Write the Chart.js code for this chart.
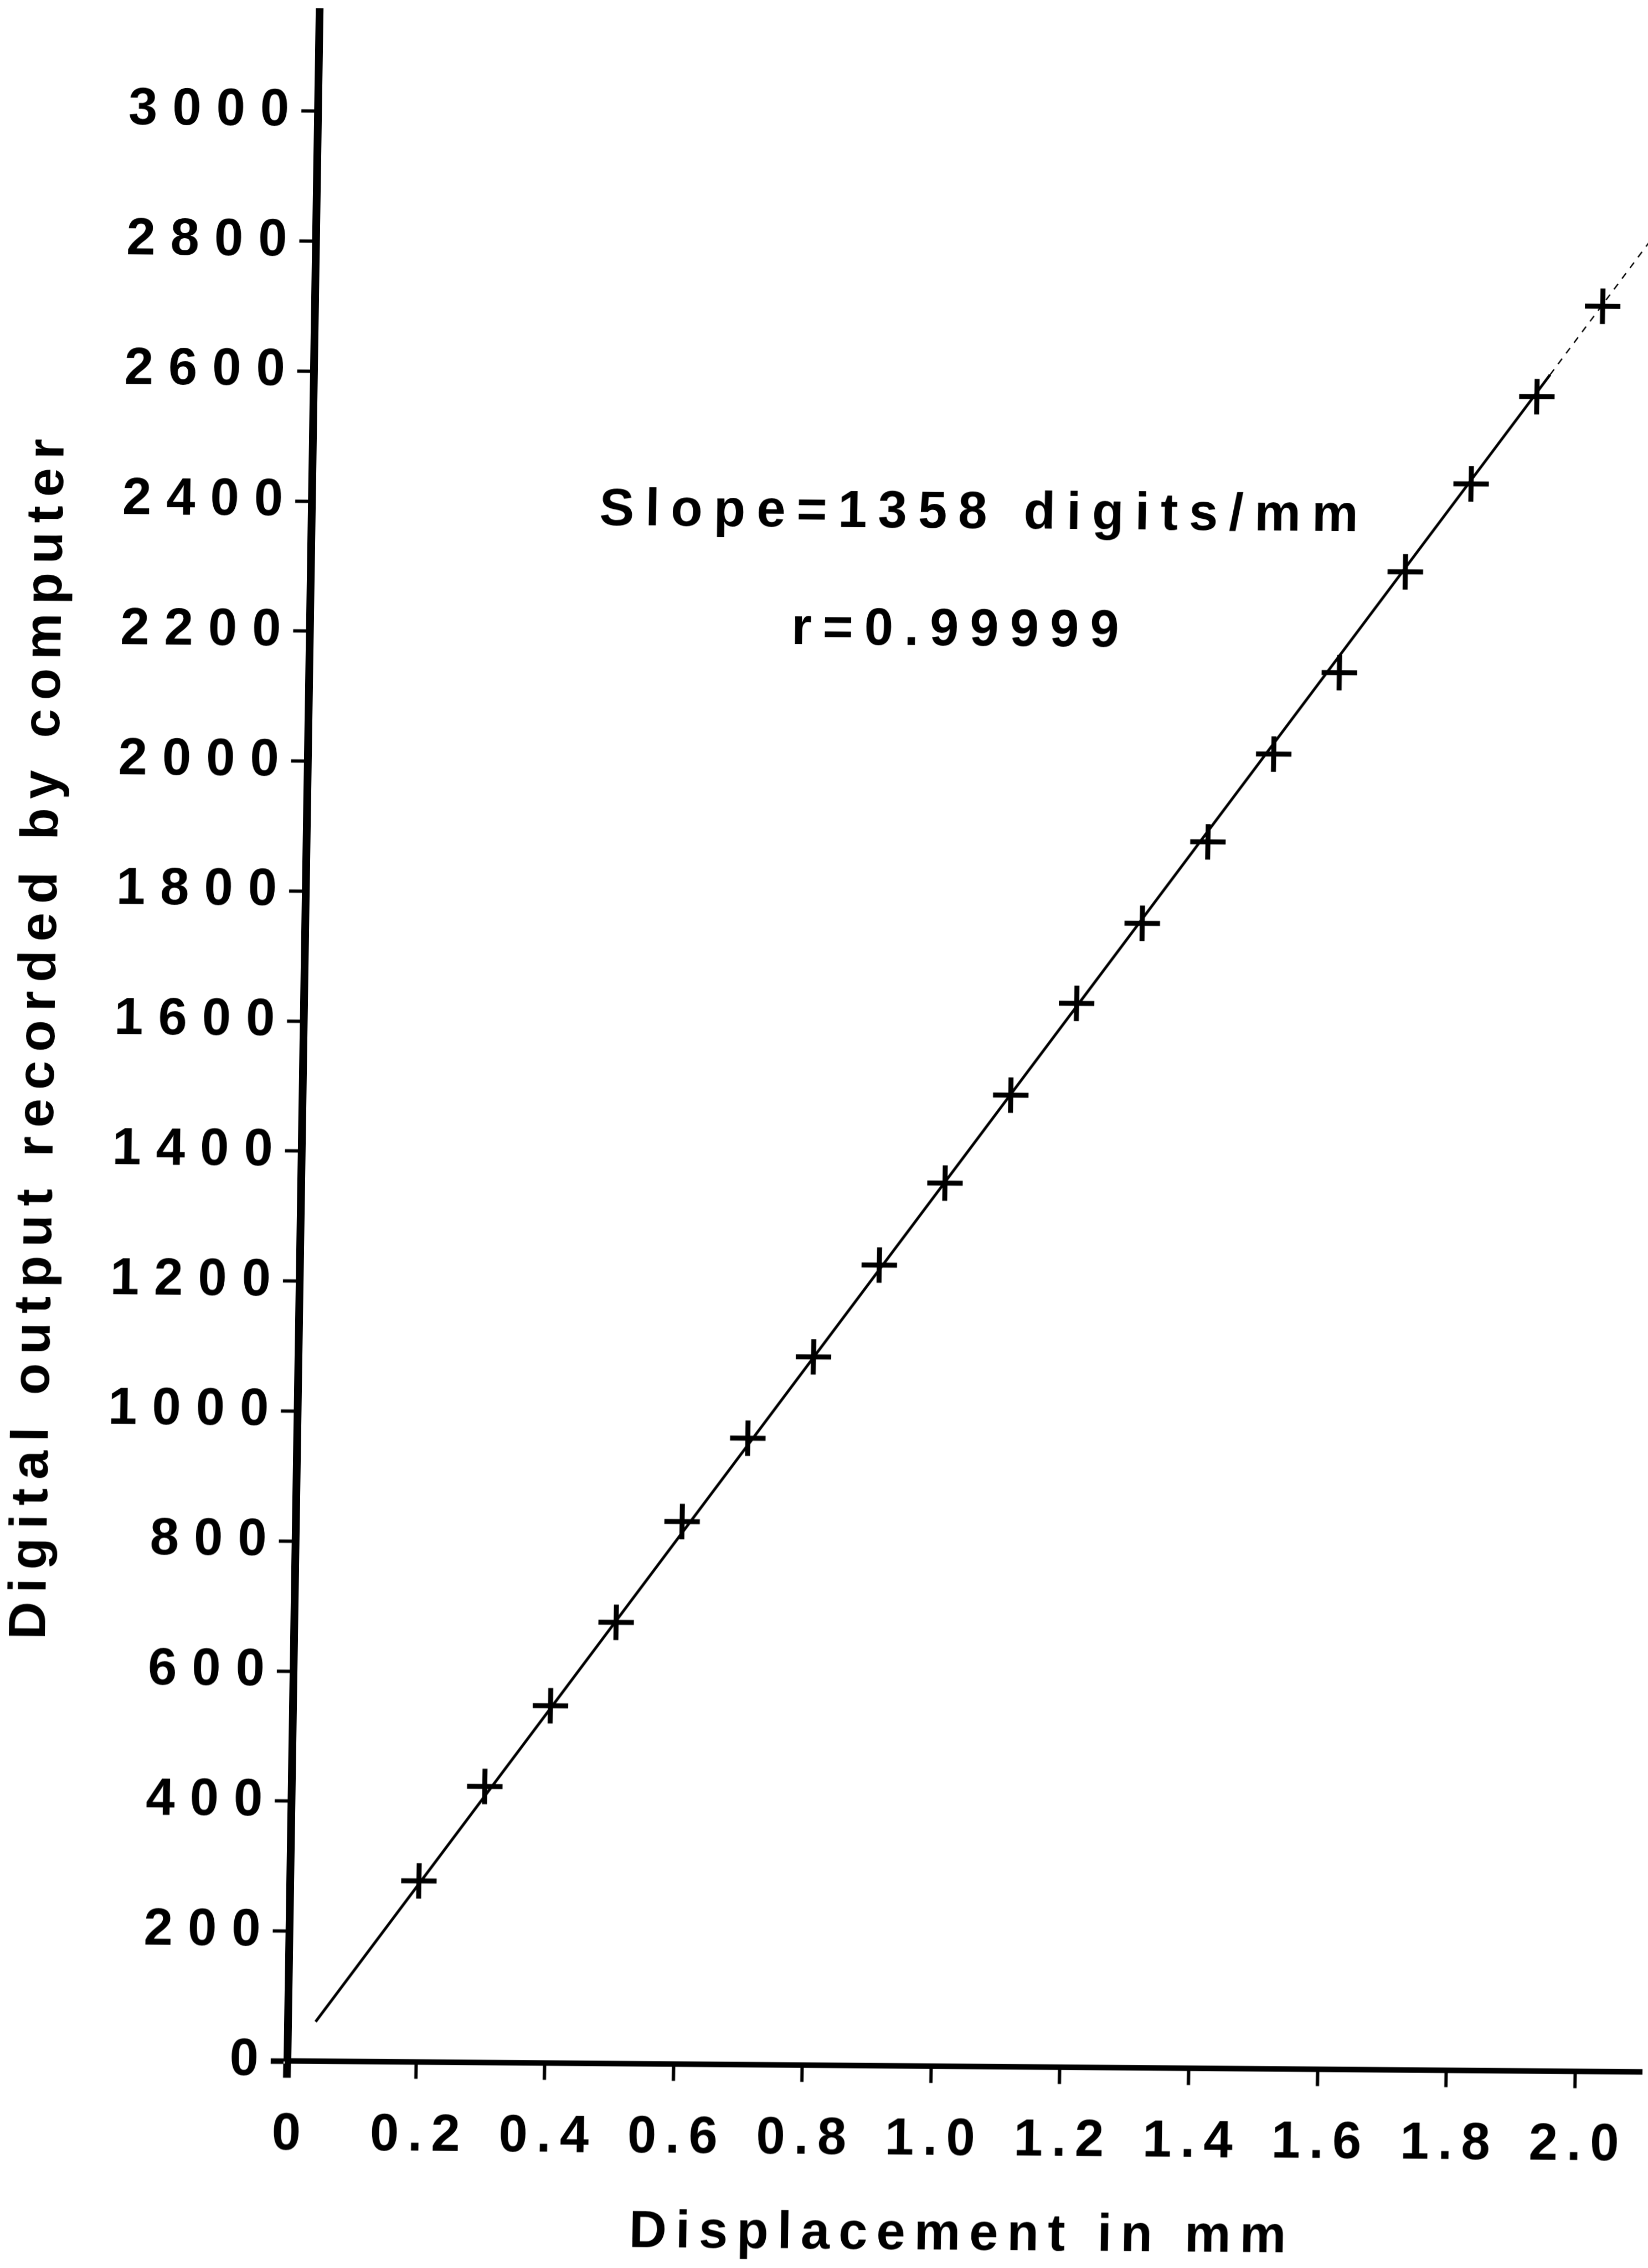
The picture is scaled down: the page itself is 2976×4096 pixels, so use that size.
<!DOCTYPE html>
<html>
<head>
<meta charset="utf-8">
<title>Digital output vs displacement</title>
<script src="https://cdn.jsdelivr.net/npm/chart.js@4/dist/chart.umd.min.js"></script>
<style>
  html, body { margin: 0; padding: 0; background: #fff; overflow: hidden; }
  #chart {
    display: block;
    /* the scanned original is slightly skewed, origin = axes corner */
    transform-origin: 518.8px 3722.4px;
    transform: matrix(1, 0.0081, -0.0157, 1, 0, 0);
  }
</style>
</head>
<body>
<canvas id="chart" width="2976" height="4096"></canvas>
<script>
// measured points (displacement in mm, digital output)
const displacement = [0.2, 0.3, 0.4, 0.5, 0.6, 0.7, 0.8, 0.9, 1.0, 1.1, 1.2, 1.3, 1.4, 1.5, 1.6, 1.7, 1.8, 1.9, 2.0];
const digitalOutput = [279, 425, 550, 679, 835, 964, 1090, 1232, 1359, 1495, 1637, 1761, 1887, 2023, 2149, 2305, 2441, 2576, 2716];

// regression line as drawn (solid, then a faint dashed end)
const fitX = [0.043, 1.92, 2.07];
const fitY = [61, 2610, 2814];

const xTickValues = [0, 0.2, 0.4, 0.6, 0.8, 1.0, 1.2, 1.4, 1.6, 1.8, 2.0];
const xTickLabels = ['0', '0.2', '0.4', '0.6', '0.8', '1.0', '1.2', '1.4', '1.6', '1.8', '2.0'];
const yTickValues = [0, 200, 400, 600, 800, 1000, 1200, 1400, 1600, 1800, 2000, 2200, 2400, 2600, 2800, 3000];
const yTickLabels = ['0', '200', '400', '600', '800', '1000', '1200', '1400', '1600', '1800', '2000', '2200', '2400', '2600', '2800', '3000'];

const slopeText = 'Slope=1358 digits/mm';
const rText = 'r=0.99999';

const FONT = '"Liberation Sans", Arial, Helvetica, sans-serif';
Chart.defaults.font.family = FONT;
Chart.defaults.font.weight = 'bold';
Chart.defaults.font.size = 94;
Chart.defaults.color = '#000';

// plotter lettering is widely tracked: titles + x labels (drawn under the data),
// y labels (drawn over it) and the notes each get their own spacing
const tracking = {
  id: 'tracking',
  beforeDraw(chart) { chart.ctx.letterSpacing = '16px'; },
  afterDatasetsDraw(chart) { chart.ctx.letterSpacing = '27px'; },
  afterDraw(chart) {
    const {ctx, scales: {x, y}} = chart;
    ctx.save();
    ctx.letterSpacing = '20px';
    ctx.font = 'bold 94px ' + FONT;
    ctx.fillStyle = '#000';
    ctx.textAlign = 'left';
    ctx.textBaseline = 'alphabetic';
    ctx.fillText(slopeText, x.getPixelForValue(0.447), y.getPixelForValue(2367));
    ctx.fillText(rText, x.getPixelForValue(0.748), y.getPixelForValue(2186));
    ctx.restore();
    ctx.letterSpacing = '0px';
  }
};

const noEdgePadding = s => {
  s.paddingLeft = 0; s.paddingRight = 0; s.paddingTop = 0; s.paddingBottom = 0;
};

new Chart(document.getElementById('chart'), {
  type: 'scatter',
  data: {
    datasets: [{
      label: 'fit',
      data: fitX.map((x, i) => ({x: x, y: fitY[i]})),
      showLine: true,
      pointRadius: 0,
      borderColor: '#000',
      borderWidth: 5,
      segment: {
        borderWidth: c => c.p0DataIndex === 1 ? 2.5 : undefined,
        borderDash: c => c.p0DataIndex === 1 ? [12, 12] : undefined
      }
    }, {
      label: 'measured',
      data: displacement.map((x, i) => ({x: x, y: digitalOutput[i]})),
      showLine: false,
      pointStyle: 'cross',
      pointRadius: 32,
      pointHoverRadius: 32,
      pointBorderWidth: 9,
      pointBorderColor: '#000',
      pointBackgroundColor: '#000'
    }]
  },
  options: {
    responsive: false,
    animation: false,
    devicePixelRatio: 1,
    events: [],
    layout: { autoPadding: false, padding: { top: 22.4, right: 11, bottom: 0, left: 0 } },
    plugins: { legend: { display: false }, tooltip: { enabled: false } },
    scales: {
      x: {
        type: 'linear',
        min: 0,
        max: 2.104,
        bounds: 'data',
        afterBuildTicks: s => { s.ticks = xTickValues.map(v => ({value: v})); },
        afterFit: s => { s.height = 373.6; noEdgePadding(s); },
        grid: {
          drawOnChartArea: false,
          drawTicks: true,
          tickLength: 30,
          tickWidth: c => (c.tick && c.tick.value === 0) ? 14 : 6,
          tickColor: '#000'
        },
        border: { display: true, width: 10, color: '#000' },
        ticks: {
          z: 0,
          autoSkip: false,
          maxRotation: 0,
          minRotation: 0,
          padding: 47,
          labelOffset: 8,
          callback: (v, i) => xTickLabels[i]
        },
        title: {
          display: true,
          text: 'Displacement in mm',
          font: { size: 94, weight: 'bold' },
          padding: { top: 0, bottom: 13 }
        }
      },
      y: {
        type: 'linear',
        min: 0,
        max: 3152,
        bounds: 'data',
        afterBuildTicks: s => { s.ticks = yTickValues.map(v => ({value: v})); },
        afterFit: s => { s.width = 518.8; noEdgePadding(s); },
        grid: {
          drawOnChartArea: false,
          drawTicks: true,
          tickLength: 30,
          tickWidth: c => (c.tick && c.tick.value === 0) ? 10 : 6,
          tickColor: '#000'
        },
        border: { display: true, width: 14, color: '#000' },
        ticks: {
          z: 1,
          autoSkip: false,
          padding: -5,
          callback: (v, i) => yTickLabels[i]
        },
        title: {
          display: true,
          text: 'Digital output recorded by computer',
          font: { size: 94, weight: 'bold' },
          padding: { top: -13, bottom: 0 }
        }
      }
    }
  },
  plugins: [tracking]
});
</script>
</body>
</html>
